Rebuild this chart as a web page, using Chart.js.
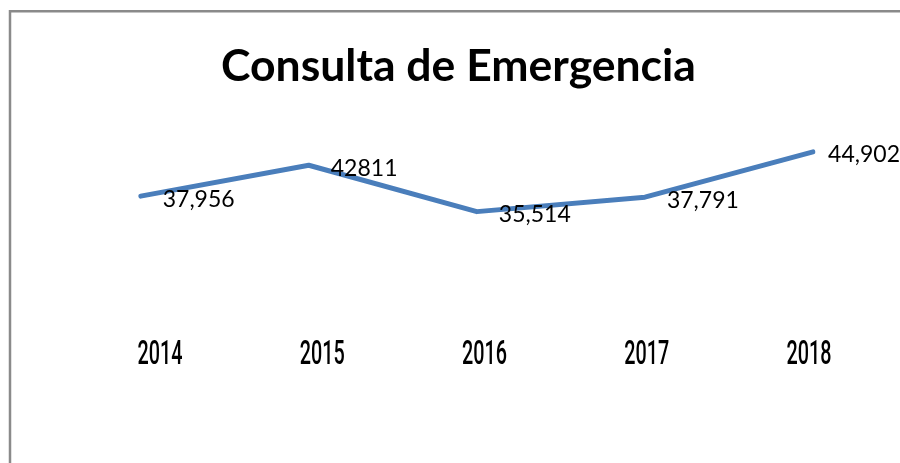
<!DOCTYPE html>
<html>
<head>
<meta charset="utf-8">
<script src="https://cdn.jsdelivr.net/npm/chart.js@4/dist/chart.umd.min.js"></script>
<style>
  html, body { margin: 0; padding: 0; background: #ffffff; overflow: hidden; }
  #c { display: block; }
</style>
</head>
<body>
<canvas id="c" width="900" height="463"></canvas>
<script>
const chartTitle = "Consulta de Emergencia";
const years = ["2014", "2015", "2016", "2017", "2018"];
const visits = [37956, 42811, 35514, 37791, 44902];
const valueLabels = ["37,956", "42811", "35,514", "37,791", "44,902"];

const labelFont = "23px Lato";
const yearFont = "500 33px Roboto";

const framePlugin = {
  id: "frame",
  beforeDraw(chart) {
    const ctx = chart.ctx;
    ctx.save();
    ctx.fillStyle = "#ffffff";
    ctx.fillRect(0, 0, chart.width, chart.height);
    ctx.strokeStyle = "#8a8a8a";
    ctx.lineWidth = 2.5;
    ctx.beginPath();
    ctx.moveTo(10, chart.height + 5);
    ctx.lineTo(10, 11.3);
    ctx.lineTo(chart.width + 5, 11.3);
    ctx.stroke();
    ctx.restore();
  }
};

const yearLabelPlugin = {
  id: "yearLabels",
  afterDraw(chart) {
    const ctx = chart.ctx;
    const axis = chart.scales.x2;
    ctx.save();
    ctx.font = yearFont;
    ctx.fillStyle = "#000000";
    ctx.textAlign = "center";
    ctx.textBaseline = "alphabetic";
    years.forEach((yr, i) => {
      const px = axis.getPixelForValue(i);
      ctx.save();
      ctx.translate(px, 364);
      ctx.scale(0.6, 1);
      ctx.fillText(yr, 0, 0);
      ctx.restore();
    });
    ctx.restore();
  }
};

const dataLabelPlugin = {
  id: "dataLabels",
  afterDatasetsDraw(chart) {
    const ctx = chart.ctx;
    const meta = chart.getDatasetMeta(0);
    ctx.save();
    ctx.font = labelFont;
    ctx.fillStyle = "#000000";
    ctx.textBaseline = "middle";
    ctx.textAlign = "left";
    meta.data.forEach((pt, i) => {
      const txt = valueLabels[i];
      const w = ctx.measureText(txt).width;
      const x = Math.min(pt.x + 22, chart.width - w);
      ctx.fillText(txt, x, pt.y + 3);
    });
    ctx.restore();
  }
};

new Chart(document.getElementById("c"), {
  type: "line",
  data: {
    labels: years,
    datasets: [{
      data: visits,
      borderColor: "#4a7ebb",
      borderWidth: 5,
      pointRadius: 0,
      tension: 0,
      borderCapStyle: "round",
      borderJoinStyle: "round",
      fill: false
    }]
  },
  options: {
    responsive: false,
    animation: false,
    layout: { padding: { left: 17, right: 0, top: 0, bottom: 120.9 } },
    plugins: {
      legend: { display: false },
      tooltip: { enabled: false },
      title: {
        display: true,
        text: chartTitle,
        color: "#000000",
        font: { family: "Lato", size: 44.5, weight: "bold" },
        padding: { top: 40, bottom: 26.1 }
      }
    },
    scales: {
      x: {
        type: "category",
        display: false,
        offset: false
      },
      x2: {
        type: "linear",
        position: "bottom",
        display: false,
        min: -0.119,
        max: 4.025
      },
      y: {
        type: "linear",
        position: "left",
        min: 15000,
        max: 50000,
        grid: { display: false, drawTicks: false },
        border: { display: false },
        ticks: { display: false },
        afterFit(scale) { scale.width = 123.7; }
      },
      yR: {
        type: "linear",
        position: "right",
        grid: { display: false, drawTicks: false },
        border: { display: false },
        ticks: { display: false },
        afterFit(scale) { scale.width = 87; }
      }
    }
  },
  plugins: [framePlugin, dataLabelPlugin, yearLabelPlugin]
});
</script>
</body>
</html>
